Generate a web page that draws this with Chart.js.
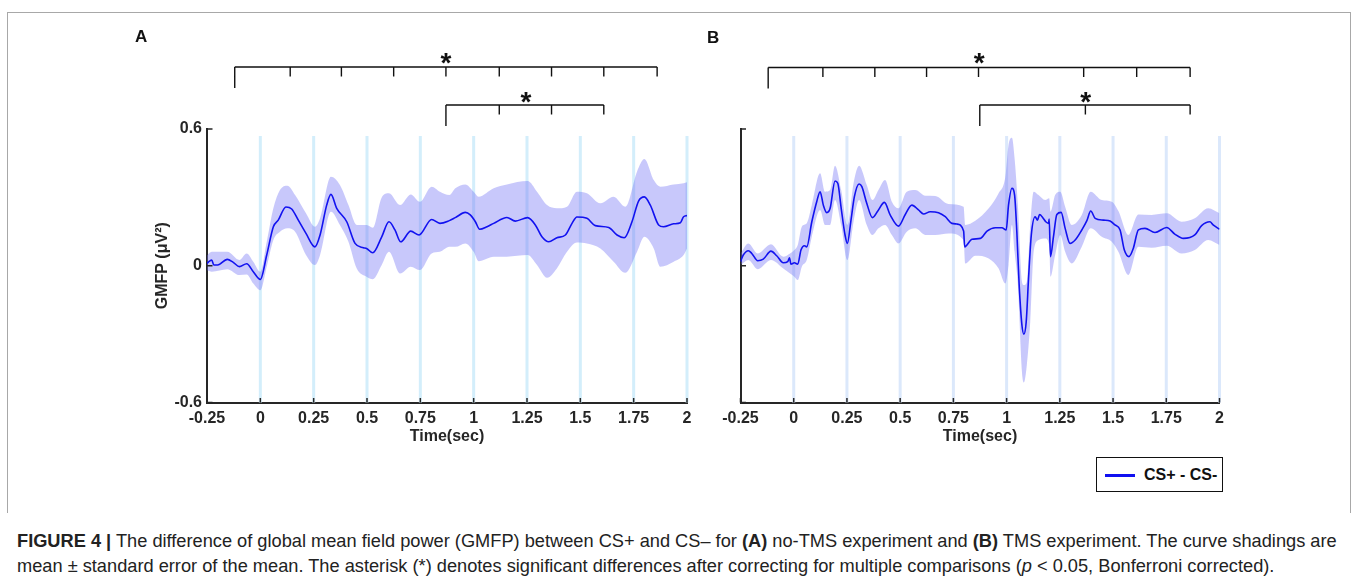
<!DOCTYPE html>
<html><head><meta charset="utf-8">
<script src="https://cdn.jsdelivr.net/npm/chart.js@4.4.1/dist/chart.umd.min.js"></script>
<style>
html,body{margin:0;padding:0;background:#fff;}
body{width:1358px;height:581px;overflow:hidden;position:relative;font-family:"Liberation Sans",Arial,sans-serif;color:#222;}
#frame{position:absolute;left:7px;top:12px;width:1342px;height:500px;border:1px solid #a8a8a8;border-bottom:none;}
canvas{position:absolute;top:0;}
#cA{left:120px;}
#cB{left:690px;}
.panel{position:absolute;font-weight:bold;font-size:17px;line-height:20px;color:#111;}
#legend{position:absolute;left:1096px;top:457px;width:127px;height:35px;border:1.6px solid #111;box-sizing:border-box;background:#fff;}
#legend .sw{position:absolute;left:8px;top:16px;width:30px;height:3px;background:#1010f0;}
#legend .tx{position:absolute;left:47px;top:7px;font-weight:bold;font-size:16px;line-height:19px;color:#111;white-space:nowrap;}
.cap{position:absolute;left:17px;white-space:nowrap;font-size:15px;line-height:20px;color:#222;}
</style>
</head><body>
<div id="frame"></div>
<canvas id="cA" width="580" height="460"></canvas>
<canvas id="cB" width="560" height="460"></canvas>
<div class="panel" style="left:135px;top:27px;">A</div>
<div class="panel" style="left:707px;top:28px;">B</div>
<div id="legend"><div class="sw"></div><div class="tx">CS+ - CS-</div></div>
<div class="cap" id="l1" style="top:531px;"><b>FIGURE 4 |</b> The difference of global mean field power (GMFP) between CS+ and CS– for <b>(A)</b> no-TMS experiment and <b>(B)</b> TMS experiment. The curve shadings are</div>
<div class="cap" id="l2" style="top:556px;">mean ± standard error of the mean. The asterisk (*) denotes significant differences after correcting for multiple comparisons (<i>p</i> &lt; 0.05, Bonferroni corrected).</div>
<script>
// ---------- tick labels / markers ----------
const xTickLabels = ['-0.25','0','0.25','0.5','0.75','1','1.25','1.5','1.75','2'];
const yTickLabels = ['-0.6','0','0.6'];
const markerTimes = [0,0.25,0.5,0.75,1,1.25,1.5,1.75,2];

// ---------- Panel A: no-TMS ----------
const timeA = [-0.25,-0.238,-0.228,-0.218,-0.2,-0.155,-0.127,-0.098,-0.064,-0.033,
  0,0.03,0.061,0.084,0.12,0.147,0.178,0.214,0.256,0.28,
  0.311,0.331,0.358,0.405,0.444,0.483,0.498,0.527,0.569,0.603,
  0.631,0.658,0.705,0.744,0.803,0.842,0.886,0.914,0.961,0.984,
  1.008,1.028,1.0625,1.094,1.156,1.195,1.253,1.289,1.32,1.352,
  1.39,1.43,1.461,1.484,1.531,1.57,1.633,1.672,1.706,1.742,
  1.773,1.8,1.828,1.867,1.89,1.9375,1.969,1.984,2.0];
const meanA = [0.01,0.02,0.025,0.003,0.003,0.028,0.015,-0.004,0.009,-0.026,
  -0.06,0.047,0.171,0.2,0.258,0.249,0.2,0.142,0.083,0.135,
  0.266,0.313,0.252,0.193,0.098,0.079,0.076,0.057,0.127,0.193,
  0.157,0.105,0.152,0.135,0.203,0.186,0.198,0.211,0.234,0.223,
  0.193,0.16,0.171,0.186,0.212,0.196,0.211,0.179,0.127,0.105,
  0.123,0.135,0.186,0.214,0.208,0.176,0.168,0.135,0.123,0.193,
  0.284,0.302,0.266,0.179,0.171,0.184,0.189,0.215,0.22];
const bandTimeA = [-0.25,-0.228,-0.155,-0.098,-0.064,-0.033,0,0.03,0.061,0.092,
  0.127,0.163,0.214,0.256,0.28,0.331,0.373,0.413,0.452,0.498,
  0.527,0.569,0.603,0.655,0.705,0.748,0.803,0.842,0.886,
  0.914,0.961,1.0,1.023,1.094,1.156,1.253,1.297,1.344,1.39,
  1.4375,1.484,1.531,1.594,1.656,1.711,1.766,1.8,1.844,1.875,
  1.9375,1.984,2.0];
const upperA = [0.045,0.061,0.061,0.025,0.054,0.018,-0.026,0.105,0.252,0.332,
  0.351,0.31,0.23,0.171,0.208,0.39,0.354,0.266,0.179,0.179,
  0.167,0.3,0.318,0.266,0.313,0.281,0.347,0.325,0.31,
  0.34,0.357,0.325,0.303,0.34,0.357,0.372,0.325,0.266,0.252,
  0.259,0.325,0.318,0.274,0.303,0.259,0.413,0.468,0.376,0.347,
  0.357,0.362,0.366];
const lowerA = [-0.02,-0.026,-0.015,-0.041,-0.038,-0.078,-0.107,-0.004,0.113,0.149,
  0.164,0.149,0.047,0.003,0.047,0.237,0.179,0.105,-0.012,-0.048,
  -0.059,0.003,0.061,-0.034,-0.004,-0.019,0.054,0.061,0.083,
  0.083,0.098,0.061,0.02,0.04,0.04,0.047,0.003,-0.053,-0.012,
  0.061,0.102,0.098,0.076,0.018,-0.031,0.061,0.127,0.076,-0.004,
  0.018,0.047,0.076];

// ---------- Panel B: TMS ----------
const timeB = [-0.25,-0.237,-0.213,-0.197,-0.169,-0.143,-0.107,-0.08,-0.049,-0.028,
  -0.02,-0.013,0.003,0.019,0.034,0.05,0.061,0.085,0.108,0.124,
  0.139,0.155,0.171,0.194,0.207,0.223,0.241,0.252,0.268,0.285,
  0.307,0.32,0.343,0.37,0.395,0.426,0.453,0.492,0.524,0.555,
  0.586,0.61,0.641,0.68,0.712,0.743,0.766,0.798,0.803,0.837,
  0.877,0.908,0.947,0.978,0.998,1.009,1.025,1.0375,1.048,1.059,
  1.072,1.081,1.092,1.103,1.116,1.134,1.145,1.155,1.17,1.184,
  1.197,1.2,1.206,1.22,1.236,1.256,1.275,1.298,1.322,1.353,
  1.377,1.395,1.416,1.455,1.486,1.509,1.533,1.553,1.575,1.595,
  1.619,1.65,1.697,1.752,1.79,1.83,1.884,1.916,1.955,1.97,
  2.0];
const meanB = [0.018,0.047,0.066,0.054,0.022,0.029,0.064,0.044,0.013,0.018,
  0.035,0.007,0.013,0.007,0.069,0.088,0.083,0.193,0.281,0.325,
  0.266,0.233,0.252,0.372,0.362,0.252,0.135,0.098,0.193,0.303,
  0.359,0.347,0.274,0.211,0.24,0.278,0.223,0.174,0.225,0.266,
  0.245,0.227,0.237,0.233,0.215,0.186,0.183,0.152,0.083,0.116,
  0.12,0.152,0.167,0.167,0.157,0.266,0.34,0.31,0.149,-0.085,
  -0.261,-0.3,-0.246,-0.056,0.135,0.215,0.2,0.225,0.211,0.193,
  0.186,0.205,0.04,0.127,0.225,0.234,0.164,0.098,0.113,0.157,
  0.198,0.24,0.208,0.2,0.196,0.179,0.157,0.069,0.04,0.076,
  0.157,0.164,0.146,0.168,0.139,0.12,0.135,0.176,0.193,0.179,
  0.16];
const bandTimeB = [-0.25,-0.213,-0.169,-0.107,-0.049,-0.017,0.003,0.019,0.038,0.061,
  0.085,0.124,0.147,0.171,0.194,0.223,0.252,0.281,0.307,0.343,
  0.37,0.398,0.429,0.461,0.492,0.531,0.571,0.618,0.665,0.727,
  0.798,0.806,0.853,0.916,0.9625,0.994,1.009,1.025,1.0375,1.053,
  1.072,1.081,1.095,1.111,1.127,1.15,1.181,1.2,1.206,1.228,
  1.252,1.275,1.306,1.353,1.395,1.447,1.494,1.525,1.572,1.619,
  1.681,1.752,1.822,1.884,1.947,2.0];
const upperB = [0.054,0.098,0.054,0.094,0.04,0.054,0.069,0.091,0.171,0.186,
  0.266,0.406,0.325,0.332,0.439,0.332,0.179,0.362,0.439,0.354,
  0.288,0.332,0.376,0.281,0.252,0.325,0.332,0.307,0.306,0.271,
  0.259,0.179,0.197,0.252,0.318,0.39,0.53,0.562,0.471,0.266,
  -0.07,-0.085,-0.07,0.179,0.325,0.31,0.288,0.296,0.237,0.31,
  0.325,0.259,0.179,0.223,0.325,0.288,0.281,0.24,0.135,0.225,
  0.223,0.23,0.193,0.208,0.252,0.23];
const lowerB = [0.003,0.025,-0.015,0.025,-0.012,-0.034,-0.048,-0.063,-0.004,0.025,
  0.127,0.245,0.179,0.179,0.288,0.179,0.025,0.193,0.288,0.179,
  0.135,0.164,0.179,0.135,0.098,0.149,0.164,0.135,0.135,0.142,
  0.113,0.01,0.044,0.032,-0.012,-0.078,0.003,0.179,0.061,-0.085,
  -0.466,-0.512,-0.436,-0.246,0.061,0.113,0.12,0.091,-0.048,0.047,
  0.135,0.061,0.01,0.083,0.164,0.127,0.105,0.061,-0.041,0.083,
  0.079,0.088,0.054,0.069,0.113,0.091];

// ---------- significance windows (sec) ----------
const sigEdgesA1 = [-0.12,0.14,0.38,0.625,0.87,1.12,1.365,1.61,1.86];
const sigEdgesA2 = [0.87,1.12,1.365,1.61];
const sigStarA = [0.87,1.245];
const sigEdgesB1 = [-0.12,0.137,0.381,0.624,0.868,1.362,1.611,1.862];
const sigEdgesB2 = [0.874,1.37,1.862];
const sigStarB = [0.871,1.372];

const FONT = '"Liberation Sans", Arial, sans-serif';
Chart.defaults.font.family = FONT;
Chart.defaults.color = '#262626';

const pts = (xs, ys) => xs.map((t, i) => ({x: t, y: ys[i]}));

const decor = {
  id: 'decor',
  beforeDatasetsDraw(chart, args, o) {
    const {ctx, chartArea: ca, scales: {x}} = chart;
    ctx.save();
    ctx.strokeStyle = o.markerColor; ctx.lineWidth = 3;
    markerTimes.forEach(t => {
      const px = x.getPixelForValue(t);
      ctx.beginPath(); ctx.moveTo(px, ca.top + 7); ctx.lineTo(px, ca.bottom); ctx.stroke();
    });
    ctx.restore();
  },
  afterDraw(chart, args, o) {
    const {ctx, chartArea: ca, scales: {x, y}} = chart;
    ctx.save();
    ctx.strokeStyle = '#262626'; ctx.lineWidth = 1.5;
    ctx.beginPath();
    x.ticks.forEach(tk => { const px = x.getPixelForValue(tk.value); ctx.moveTo(px, ca.bottom); ctx.lineTo(px, ca.bottom - 4.5); });
    y.ticks.forEach(tk => { const py = y.getPixelForValue(tk.value); ctx.moveTo(ca.left, py); ctx.lineTo(ca.left + 5.5, py); });
    ctx.stroke();
    ctx.strokeStyle = '#111'; ctx.fillStyle = '#111'; ctx.lineWidth = 1.4;
    o.brackets.forEach(b => {
      const xs = b.edges.map(e => x.getPixelForValue(e));
      ctx.beginPath();
      ctx.moveTo(xs[0], b.lineY); ctx.lineTo(xs[xs.length - 1], b.lineY);
      xs.forEach((px, i) => { ctx.moveTo(px, b.lineY); ctx.lineTo(px, i === 0 ? b.longY : b.shortY); });
      ctx.stroke();
      ctx.font = 'bold 28px ' + FONT; ctx.textAlign = 'center'; ctx.textBaseline = 'alphabetic';
      ctx.fillText('*', x.getPixelForValue(b.star), b.starY + 15.5);
    });
    ctx.restore();
  }
};

function makeChart(id, cfg) {
  return new Chart(document.getElementById(id), {
    type: 'line',
    data: {
      datasets: [
        {label: 'CS+ - CS-', data: pts(cfg.t, cfg.mean), borderColor: '#1212f0', borderWidth: 1.6,
         pointRadius: 0, fill: false, cubicInterpolationMode: 'monotone'},
        {label: 'upper', data: pts(cfg.bt, cfg.up), borderWidth: 0, borderColor: 'rgba(0,0,0,0)',
         backgroundColor: 'rgba(110,110,245,0.38)', pointRadius: 0, fill: '+1', cubicInterpolationMode: 'monotone'},
        {label: 'lower', data: pts(cfg.bt, cfg.lo), borderWidth: 0, borderColor: 'rgba(0,0,0,0)',
         pointRadius: 0, fill: false, cubicInterpolationMode: 'monotone'}
      ]
    },
    options: {
      responsive: false, animation: false, devicePixelRatio: 1,
      layout: {padding: {top: 129, left: 0, right: cfg.padRight, bottom: 0}},
      plugins: {legend: {display: false}, tooltip: {enabled: false},
        decor: {markerColor: cfg.markerColor, brackets: cfg.brackets}},
      scales: {
        x: {type: 'linear', min: -0.25, max: 2,
          grid: {display: false, drawTicks: false},
          border: {display: true, color: '#262626', width: 2},
          ticks: {stepSize: 0.25, autoSkip: false, maxRotation: 0, padding: 6,
            font: {size: 16, weight: 'bold'}, color: '#262626',
            callback: (v, i) => xTickLabels[i]},
          title: {display: true, text: 'Time(sec)', font: {size: 16, weight: 'bold'}, color: '#262626',
            padding: {top: 0, bottom: 13.4}},
          afterFit: s => { s.height = 57.5; s.paddingLeft = 0; s.paddingRight = 0; }
        },
        y: {type: 'linear', min: -0.6, max: 0.6,
          grid: {display: false, drawTicks: false},
          border: {display: true, color: '#262626', width: 2},
          ticks: {stepSize: 0.6, display: cfg.showY, padding: 5,
            font: {size: 16, weight: 'bold'}, color: '#262626',
            callback: (v, i) => yTickLabels[i]},
          title: {display: cfg.showY, text: 'GMFP (μV²)', font: {size: 16, weight: 'bold'}, color: '#262626',
            padding: {top: 32.7, bottom: 0}},
          afterFit: s => { s.width = cfg.yWidth; s.paddingTop = 0; s.paddingBottom = 0; }
        }
      }
    },
    plugins: [decor]
  });
}

makeChart('cA', {t: timeA, mean: meanA, bt: bandTimeA, up: upperA, lo: lowerA,
  padRight: 13, yWidth: 87, showY: true, markerColor: '#d3eefb',
  brackets: [
    {edges: sigEdgesA1, star: sigStarA[0], lineY: 67, shortY: 76.5, longY: 88, starY: 56},
    {edges: sigEdgesA2, star: sigStarA[1], lineY: 105, shortY: 114.5, longY: 126, starY: 95}
  ]});
makeChart('cB', {t: timeB, mean: meanB, bt: bandTimeB, up: upperB, lo: lowerB,
  padRight: 30.5, yWidth: 50.5, showY: false, markerColor: '#dbe8fb',
  brackets: [
    {edges: sigEdgesB1, star: sigStarB[0], lineY: 67.5, shortY: 77, longY: 88.5, starY: 56.5},
    {edges: sigEdgesB2, star: sigStarB[1], lineY: 105, shortY: 114.5, longY: 126, starY: 95}
  ]});

// fit caption line 1 to its measured width in the figure
(function(){
  const l1 = document.getElementById('l1'), l2 = document.getElementById('l2');
  const target = 1338 - 17;
  const w = l1.getBoundingClientRect().width;
  const fs = 15 * target / w;
  l1.style.fontSize = fs + 'px'; l2.style.fontSize = fs + 'px';
})();
</script>
</body></html>
